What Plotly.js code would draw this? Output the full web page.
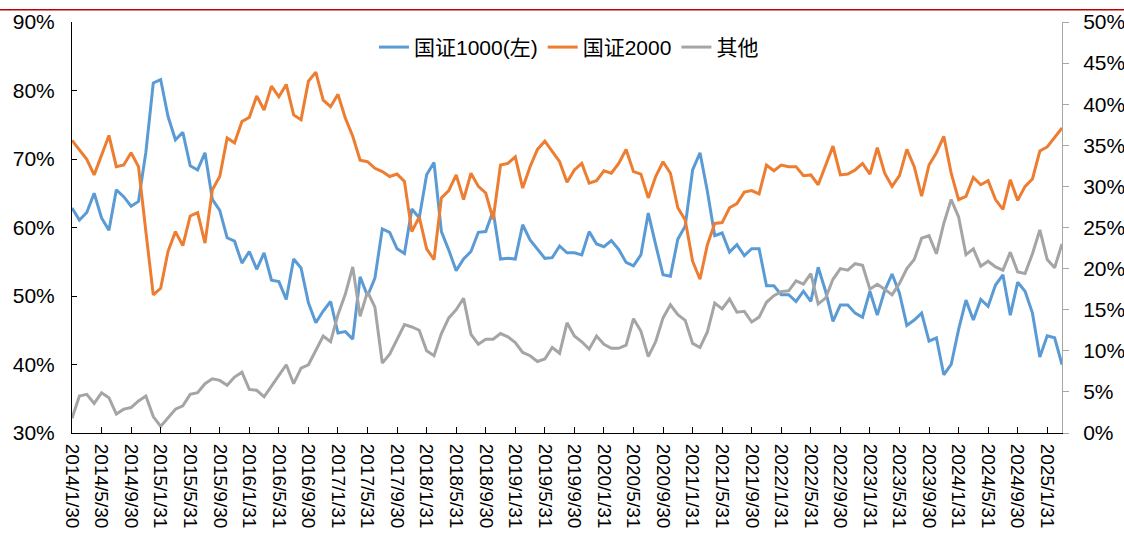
<!DOCTYPE html>
<html>
<head>
<meta charset="utf-8">
<script src="https://cdn.plot.ly/plotly-3.0.1.min.js"></script>
<style>html,body{margin:0;padding:0;background:#fff;}#chart{width:1124px;height:541px;}</style>
</head>
<body>
<div id="chart"></div>
<script>
// Monthly categories 2014/01 .. 2025/03
const months = [];
for (let y = 2014; y <= 2025; y++) {
  for (let m = 1; m <= 12; m++) {
    if (y === 2025 && m > 3) break;
    months.push(y + '-' + (m < 10 ? '0' + m : m));
  }
}

const tickLabels = ["2014/1/30","2014/5/30","2014/9/30","2015/1/31","2015/5/31","2015/9/30","2016/1/31","2016/5/31","2016/9/30","2017/1/31","2017/5/31","2017/9/30","2018/1/31","2018/5/31","2018/9/30","2019/1/31","2019/5/31","2019/9/30","2020/1/31","2020/5/31","2020/9/30","2021/1/31","2021/5/31","2021/9/30","2022/1/31","2022/5/31","2022/9/30","2023/1/31","2023/5/31","2023/9/30","2024/1/31","2024/5/31","2024/9/30","2025/1/31"];
const tickCats = ["2014-01","2014-05","2014-09","2015-01","2015-05","2015-09","2016-01","2016-05","2016-09","2017-01","2017-05","2017-09","2018-01","2018-05","2018-09","2019-01","2019-05","2019-09","2020-01","2020-05","2020-09","2021-01","2021-05","2021-09","2022-01","2022-05","2022-09","2023-01","2023-05","2023-09","2024-01","2024-05","2024-09","2025-01"];

// 国证1000 share (%), left axis
const gz1000 = [62.85,61.1,62.2,65.0,61.4,59.6,65.5,64.5,63.1,63.8,
71.0,81.1,81.6,76.2,72.8,73.9,69.0,68.4,70.9,64.1,
62.5,58.5,58.0,54.8,56.5,53.9,56.3,52.3,52.1,49.5,
55.4,54.1,49.0,46.1,47.8,49.2,44.6,44.8,43.7,52.8,
50.0,52.6,59.8,59.3,56.9,56.2,62.7,61.4,67.7,69.5,
59.4,56.7,53.7,55.4,56.5,59.3,59.4,62.4,55.4,55.5,
55.4,60.4,58.2,56.8,55.5,55.6,57.3,56.3,56.3,56.0,
59.4,57.6,57.2,58.1,56.8,54.9,54.4,56.0,62.1,57.5,
53.1,52.9,58.3,60.2,68.4,70.9,65.3,58.8,59.2,56.4,
57.5,55.9,56.9,56.9,51.5,51.5,50.2,50.2,49.2,50.7,
49.2,54.2,50.7,46.3,48.7,48.7,47.5,46.9,50.7,47.2,
50.8,53.2,50.4,45.7,46.5,47.5,43.4,43.9,38.5,40.0,
45.1,49.4,46.5,49.5,48.5,51.6,53.1,47.2,52.0,50.7,
47.5,41.1,44.2,43.9,40.0];

// 国证2000 share (%), right axis
const gz2000 = [35.6,34.5,33.3,31.4,33.8,36.2,32.4,32.6,34.1,32.4,
24.5,16.8,17.6,22.1,24.5,22.8,26.4,26.8,23.1,29.6,
31.2,35.9,35.3,37.9,38.4,41.0,39.3,42.2,40.9,42.4,
38.7,38.1,42.8,43.9,40.5,39.7,41.2,38.3,36.1,33.2,
33.0,32.2,31.8,31.2,31.5,30.6,24.5,26.3,22.4,21.1,
28.6,29.5,31.4,28.4,31.6,30.0,29.2,26.0,32.6,32.8,
33.6,29.8,32.4,34.5,35.5,34.3,33.0,30.5,32.0,32.8,
30.4,30.7,31.9,31.6,32.8,34.5,31.8,31.5,28.6,31.2,
33.0,31.6,27.4,25.9,20.9,18.7,22.9,25.5,25.6,27.4,
27.9,29.3,29.5,29.1,32.6,31.9,32.6,32.4,32.4,31.3,
31.4,30.2,32.6,34.9,31.4,31.5,32.0,32.8,31.5,34.7,
31.6,30.0,31.3,34.5,32.4,28.8,32.6,34.1,36.1,31.6,
28.4,28.8,31.1,30.2,30.7,28.4,27.2,30.8,28.3,30.0,
30.9,34.3,34.8,35.9,37.1];

// 其他 share (%), right axis
const others = [1.8,4.5,4.7,3.6,4.9,4.3,2.3,2.9,3.1,3.9,
4.5,2.0,0.8,1.8,2.9,3.3,4.7,4.9,6.0,6.6,
6.4,5.8,6.8,7.4,5.3,5.2,4.4,5.7,7.0,8.3,
6.0,7.9,8.3,10.0,11.8,11.1,14.4,16.9,20.2,14.2,
17.2,15.3,8.5,9.6,11.5,13.2,12.9,12.5,10.0,9.4,
12.1,14.0,15.0,16.4,12.0,10.8,11.4,11.4,12.1,11.7,
11.0,9.8,9.4,8.7,9.0,10.4,9.7,13.4,11.8,11.1,
10.2,11.8,10.8,10.3,10.3,10.7,13.9,12.4,9.3,11.1,
14.0,15.6,14.4,13.7,10.9,10.4,12.3,15.8,15.1,16.3,
14.7,14.8,13.5,14.1,15.9,16.7,17.2,17.3,18.5,18.1,
19.4,15.7,16.4,18.7,20.0,19.8,20.6,20.4,17.5,18.1,
17.5,16.8,18.2,20.0,21.1,23.7,24.0,21.8,25.5,28.4,
26.3,21.7,22.4,20.3,20.9,20.2,19.8,22.0,19.6,19.4,
21.8,24.7,21.1,20.1,23.0];

const FONT = '"Liberation Sans", Arial, "Noto Sans CJK SC", sans-serif';

const traces = [
  {x: months, y: gz1000, name: '国证1000(左)', type: 'scatter', mode: 'lines',
   line: {color: '#5B9BD5', width: 3}, yaxis: 'y'},
  {x: months, y: gz2000, name: '国证2000', type: 'scatter', mode: 'lines',
   line: {color: '#ED7D31', width: 3}, yaxis: 'y2'},
  {x: months, y: others, name: '其他', type: 'scatter', mode: 'lines',
   line: {color: '#A5A5A5', width: 3}, yaxis: 'y2'}
];

const layout = {
  width: 1124, height: 541,
  margin: {l: 72, r: 62, t: 22, b: 108},
  paper_bgcolor: '#fff', plot_bgcolor: '#fff',
  font: {family: FONT, color: '#000'},
  showlegend: true,
  legend: {orientation: 'h', x: 0.502, xanchor: 'center', y: 0.988, yanchor: 'top',
    font: {size: 21, family: FONT, color: '#000'}, bgcolor: 'rgba(0,0,0,0)', itemwidth: 30},
  xaxis: {type: 'category', range: [0, months.length - 1], tickmode: 'array',
    tickvals: tickCats, ticktext: tickLabels, tickangle: 90,
    ticks: 'inside', ticklen: 6, tickcolor: '#000', showline: true, linecolor: '#000', linewidth: 1,
    showgrid: false, zeroline: false, tickfont: {size: 19, family: FONT, color: '#000'},
    ticklabelstandoff: 6},
  yaxis: {range: [30, 90], tickmode: 'linear', tick0: 30, dtick: 10, ticksuffix: '%',
    ticks: 'inside', ticklen: 5, tickcolor: '#000', showline: true, linecolor: '#000', linewidth: 1,
    showgrid: false, zeroline: false, tickfont: {size: 21, family: FONT, color: '#000'},
    ticklabelstandoff: 12},
  yaxis2: {range: [0, 50], tickmode: 'linear', tick0: 0, dtick: 5, ticksuffix: '%',
    overlaying: 'y', side: 'right', ticks: 'outside', ticklen: 6, tickcolor: '#A6A6A6',
    showline: true, linecolor: '#A6A6A6', linewidth: 1, showgrid: false, zeroline: false,
    tickfont: {size: 21, family: FONT, color: '#000'}, ticklabelstandoff: 10},
  shapes: [
    {type: 'line', xref: 'paper', yref: 'paper', x0: -0.08, x1: 1.07, y0: 1.030, y1: 1.030,
     line: {color: '#C00000', width: 1.5}}
  ]
};

Plotly.newPlot('chart', traces, layout, {displayModeBar: false, staticPlot: true});
</script>
</body>
</html>
